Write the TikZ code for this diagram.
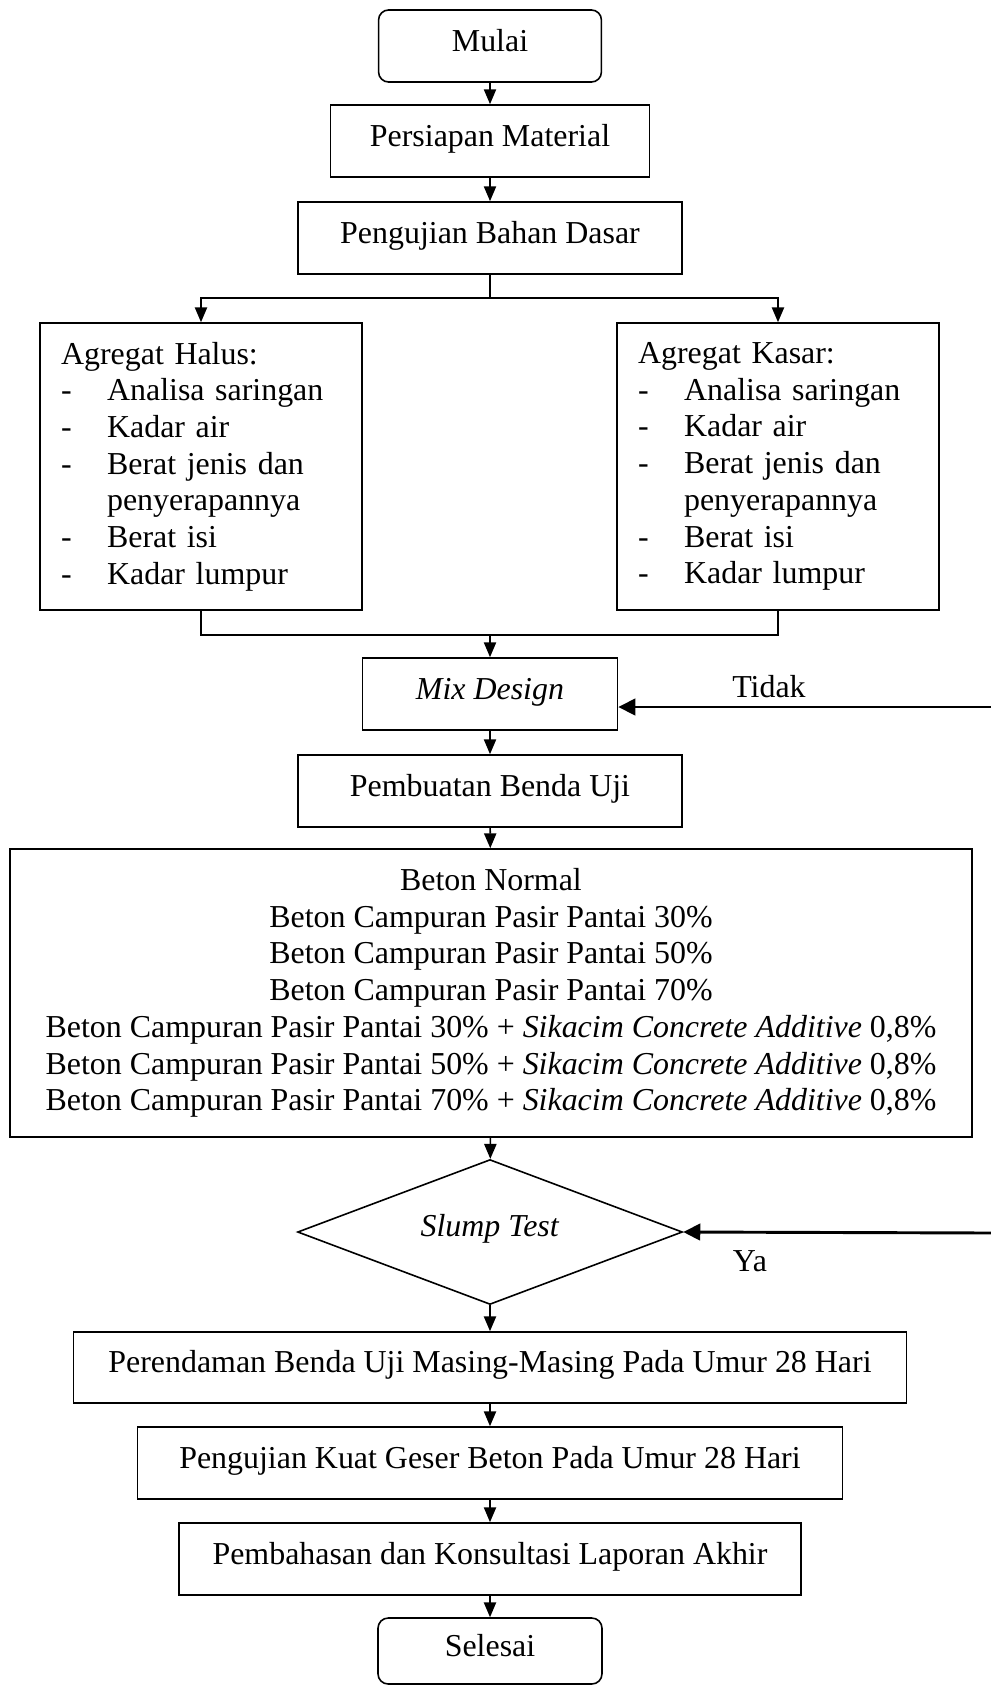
\documentclass[tikz,border=0pt]{standalone}
\usepackage{fontspec}
\setmainfont{Liberation Serif}
\usetikzlibrary{arrows.meta, positioning, shapes.geometric, calc}

\newcommand{\butir}[1]{\makebox[17.3pt][l]{-}#1}
\newcommand{\lanjut}[1]{\makebox[17.3pt][l]{}#1}

\tikzset{
  huruf/.style={font=\fontsize{12}{13.8}\selectfont},
  proses/.style={draw, huruf, line width=0.6pt, minimum height=27.1pt,
    inner sep=0pt, text height=9pt, text depth=5pt},
  terminal/.style={proses, rounded corners=3.8pt},
  daftar/.style={draw, huruf, line width=0.6pt, minimum width=121pt,
    minimum height=107.9pt, inner xsep=7.9pt, text width=105.2pt, align=left},
  keputusan/.style={draw, huruf, diamond, aspect=2.66, inner sep=0pt,
    line width=0.6pt, minimum width=144.7pt, minimum height=54.5pt,
    text height=9pt, text depth=6pt},
  garis/.style={line width=0.6pt},
  panah/.style={line width=0.6pt, -{Triangle[length=5.6pt,width=4.6pt]}},
  balik/.style={line width=1.1pt, -{Triangle[length=6.4pt,width=6.2pt]}},
  ket/.style={huruf, inner sep=0pt}
}

\begin{document}
\begin{tikzpicture}[x=0.013213cm, y=-0.013213cm]
    \useasboundingbox (0,0) rectangle (991,1686);

    % Mulai dan persiapan
    \node[terminal, minimum width=83.8pt] (mulai) at (490,46) {Mulai};
    \node[proses, minimum width=119.9pt] (siap) at (490,141) {Persiapan Material};
    \node[proses, minimum width=144.3pt] (uji) at (490,238) {Pengujian Bahan Dasar};

    % Agregat halus dan kasar
    \node[daftar] (halus) at (201,466.5) {Agregat Halus:\\
      \butir{Analisa saringan}\\
      \butir{Kadar air}\\
      \butir{Berat jenis dan}\\
      \lanjut{penyerapannya}\\
      \butir{Berat isi}\\
      \butir{Kadar lumpur}};
    \node[daftar] (kasar) at (778,466.5) {Agregat Kasar:\\
      \butir{Analisa saringan}\\
      \butir{Kadar air}\\
      \butir{Berat jenis dan}\\
      \lanjut{penyerapannya}\\
      \butir{Berat isi}\\
      \butir{Kadar lumpur}};

    % Mix design dan benda uji
    \node[proses, minimum width=95.9pt] (mix) at (490,694) {\textit{Mix Design}};
    \node[proses, minimum width=144.3pt] (buat) at (490,791) {Pembuatan Benda Uji};
    \node[draw, huruf, line width=0.6pt, minimum width=361.6pt, minimum height=108.3pt,
      inner sep=0pt, align=center] (beton) at (491,993) {Beton Normal\\
      Beton Campuran Pasir Pantai 30\%\\
      Beton Campuran Pasir Pantai 50\%\\
      Beton Campuran Pasir Pantai 70\%\\
      Beton Campuran Pasir Pantai 30\% + \textit{Sikacim Concrete Additive} 0,8\%\\
      Beton Campuran Pasir Pantai 50\% + \textit{Sikacim Concrete Additive} 0,8\%\\
      Beton Campuran Pasir Pantai 70\% + \textit{Sikacim Concrete Additive} 0,8\%};

    % Slump test
    \node[keputusan] (slump) at (490,1232) {\textit{Slump Test}\hspace{6pt}};

    % Perendaman sampai selesai
    \node[proses, minimum width=313.1pt, minimum height=26.7pt] (rendam) at (490,1367.5)
      {Perendaman Benda Uji Masing-Masing Pada Umur 28 Hari};
    \node[proses, minimum width=265pt] (geser) at (490,1463)
      {Pengujian Kuat Geser Beton Pada Umur 28 Hari};
    \node[proses, minimum width=233.8pt] (bahas) at (490,1559)
      {Pembahasan dan Konsultasi Laporan Akhir};
    \node[terminal, minimum width=84.2pt, minimum height=24.8pt] (selesai) at (490,1651) {Selesai};

    % Panah utama
    \draw[panah] (mulai) -- (siap);
    \draw[panah] (siap) -- (uji);
    \coordinate (cabang) at (490,298);
    \draw[garis] (uji) -- (cabang);
    \draw[panah] (cabang) -| (halus);
    \draw[panah] (cabang) -| (kasar);
    \coordinate (gabung) at (490,635);
    \draw[garis] (halus) |- (gabung) -| (kasar);
    \draw[panah] (gabung) -- (mix);
    \draw[panah] (mix) -- (buat);
    \draw[panah] (buat) -- (beton);
    \draw[panah] (beton) -- (slump);
    \draw[panah] (slump) -- (rendam);
    \draw[panah] (rendam) -- (geser);
    \draw[panah] (geser) -- (bahas);
    \draw[panah] (bahas) -- (selesai);

    % Umpan balik
    \coordinate (tidakUjung) at (991,707);
    \coordinate (yaUjung) at (991,1233);
    \draw[balik] (tidakUjung) -- (tidakUjung -| mix.east);
    \draw[balik] (yaUjung) -- (slump.east);
    \node[ket] (tidak) at (769,687) {Tidak};
    \node[ket] (ya) at (750,1261) {Ya};
\end{tikzpicture}
\end{document}
